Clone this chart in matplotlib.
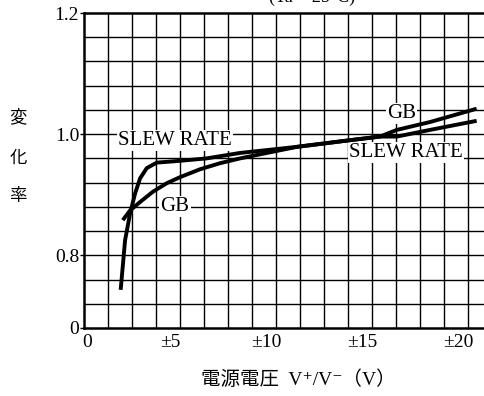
import numpy as np
import matplotlib
matplotlib.use("Agg")
import matplotlib.pyplot as plt
import matplotlib.transforms as mtransforms

plt.rcParams['font.family'] = ['Liberation Serif', 'Noto Sans CJK JP', 'DejaVu Sans']

# supply voltage (±V) vs. normalized change
slew_v = [1.91, 2.14, 2.40, 2.66, 2.92, 3.27, 3.79, 5.0, 6.39, 8.13, 11.08, 13.85, 15.42, 16.29, 18.02, 20.45]
slew_r = [0.743, 0.825, 0.869, 0.902, 0.927, 0.944, 0.953, 0.956, 0.960, 0.969, 0.979, 0.990, 0.996, 0.996, 1.007, 1.022]
gb_v = [2.02, 2.40, 2.92, 3.59, 4.31, 5.0, 6.04, 7.08, 8.13, 11.08, 13.85, 15.42, 16.29, 18.02, 20.45]
gb_r = [0.858, 0.874, 0.888, 0.905, 0.919, 0.929, 0.942, 0.952, 0.960, 0.979, 0.990, 0.996, 1.007, 1.020, 1.042]

xticks = [0, 5, 10, 15, 20]
xticklabels = ["0", "±5", "±10", "±15", "±20"]
yticks = [0, 0.8, 1.0, 1.2]
yticklabels = ["0", "0.8", "1.0", "1.2"]


# broken y axis: 0 .. 0.72 squeezed into one grid cell, 0.04 per cell above
def fwd(y):
    y = np.asarray(y, dtype=float)
    return np.where(y >= 0.72, (y - 0.8) / 0.04 + 3, y / 0.72)


def inv(c):
    c = np.asarray(c, dtype=float)
    return np.where(c >= 1, 0.8 + (c - 3) * 0.04, c * 0.72)


fig = plt.figure(figsize=(4.85, 3.96), dpi=100)
ax = fig.add_axes([84 / 485, 68 / 396, 408 / 485, 315 / 396])
ax.set_yscale('function', functions=(fwd, inv))
ax.set_xlim(0, 21.25)
ax.set_ylim(0, 1.2)

# graph paper
for gx in np.arange(1.25, 21.25, 1.25):
    ax.axvline(gx, color="black", lw=1.0, zorder=1)
for gy in np.r_[0.72, np.arange(0.76, 1.19, 0.04)]:
    ax.axhline(gy, color="black", lw=1.0, zorder=1)

ax.plot(slew_v, slew_r, color="black", lw=2.8, solid_capstyle="butt", zorder=4)
ax.plot(gb_v, gb_r, color="black", lw=2.8, solid_capstyle="butt", zorder=4)

box = dict(facecolor="white", edgecolor="none", pad=0.8)
ax.text(4.74, 0.990, "SLEW RATE", fontsize=15, ha="center", va="center", bbox=box, zorder=3)
ax.text(4.74, 0.881, "GB", fontsize=15, ha="center", va="center", bbox=box, zorder=3)
ax.text(16.54, 1.034, "GB", fontsize=15, ha="center", va="center", bbox=box, zorder=3)
ax.text(16.77, 0.969, "SLEW RATE", fontsize=15, ha="center", va="center", bbox=box, zorder=3)

for side in ["left", "bottom", "top"]:
    ax.spines[side].set_linewidth(1.8)
ax.spines["right"].set_visible(False)

ax.set_yticks(yticks)
ax.set_yticklabels(yticklabels, fontsize=14)
ax.set_xticks(xticks)
ax.set_xticklabels(xticklabels, fontsize=14)
ax.minorticks_off()
ax.tick_params(axis="y", direction="out", length=3, width=1, pad=0.5)
ax.tick_params(axis="x", length=0, pad=4)
for lab, x in zip(ax.get_xticklabels(), xticks):
    dx = 3.5 if x == 0 else -10
    lab.set_transform(lab.get_transform() + mtransforms.ScaledTranslation(dx / 100, 0, fig.dpi_scale_trans))

# vertical axis title
for ch, py in zip("変化率", [117, 158, 196]):
    fig.text(18 / 485, 1 - py / 396, ch, fontsize=12.5, ha="center", va="center", family="Noto Sans CJK JP")

fig.text(298 / 485, 1 - 380 / 396, "電源電圧  V⁺/V⁻（V）", fontsize=14, ha="center", va="center")
fig.text(312 / 485, 1 - 2 / 396, "(Ta = 25°C)", fontsize=13, ha="center", va="baseline")

fig.savefig("out.png", dpi=100)
